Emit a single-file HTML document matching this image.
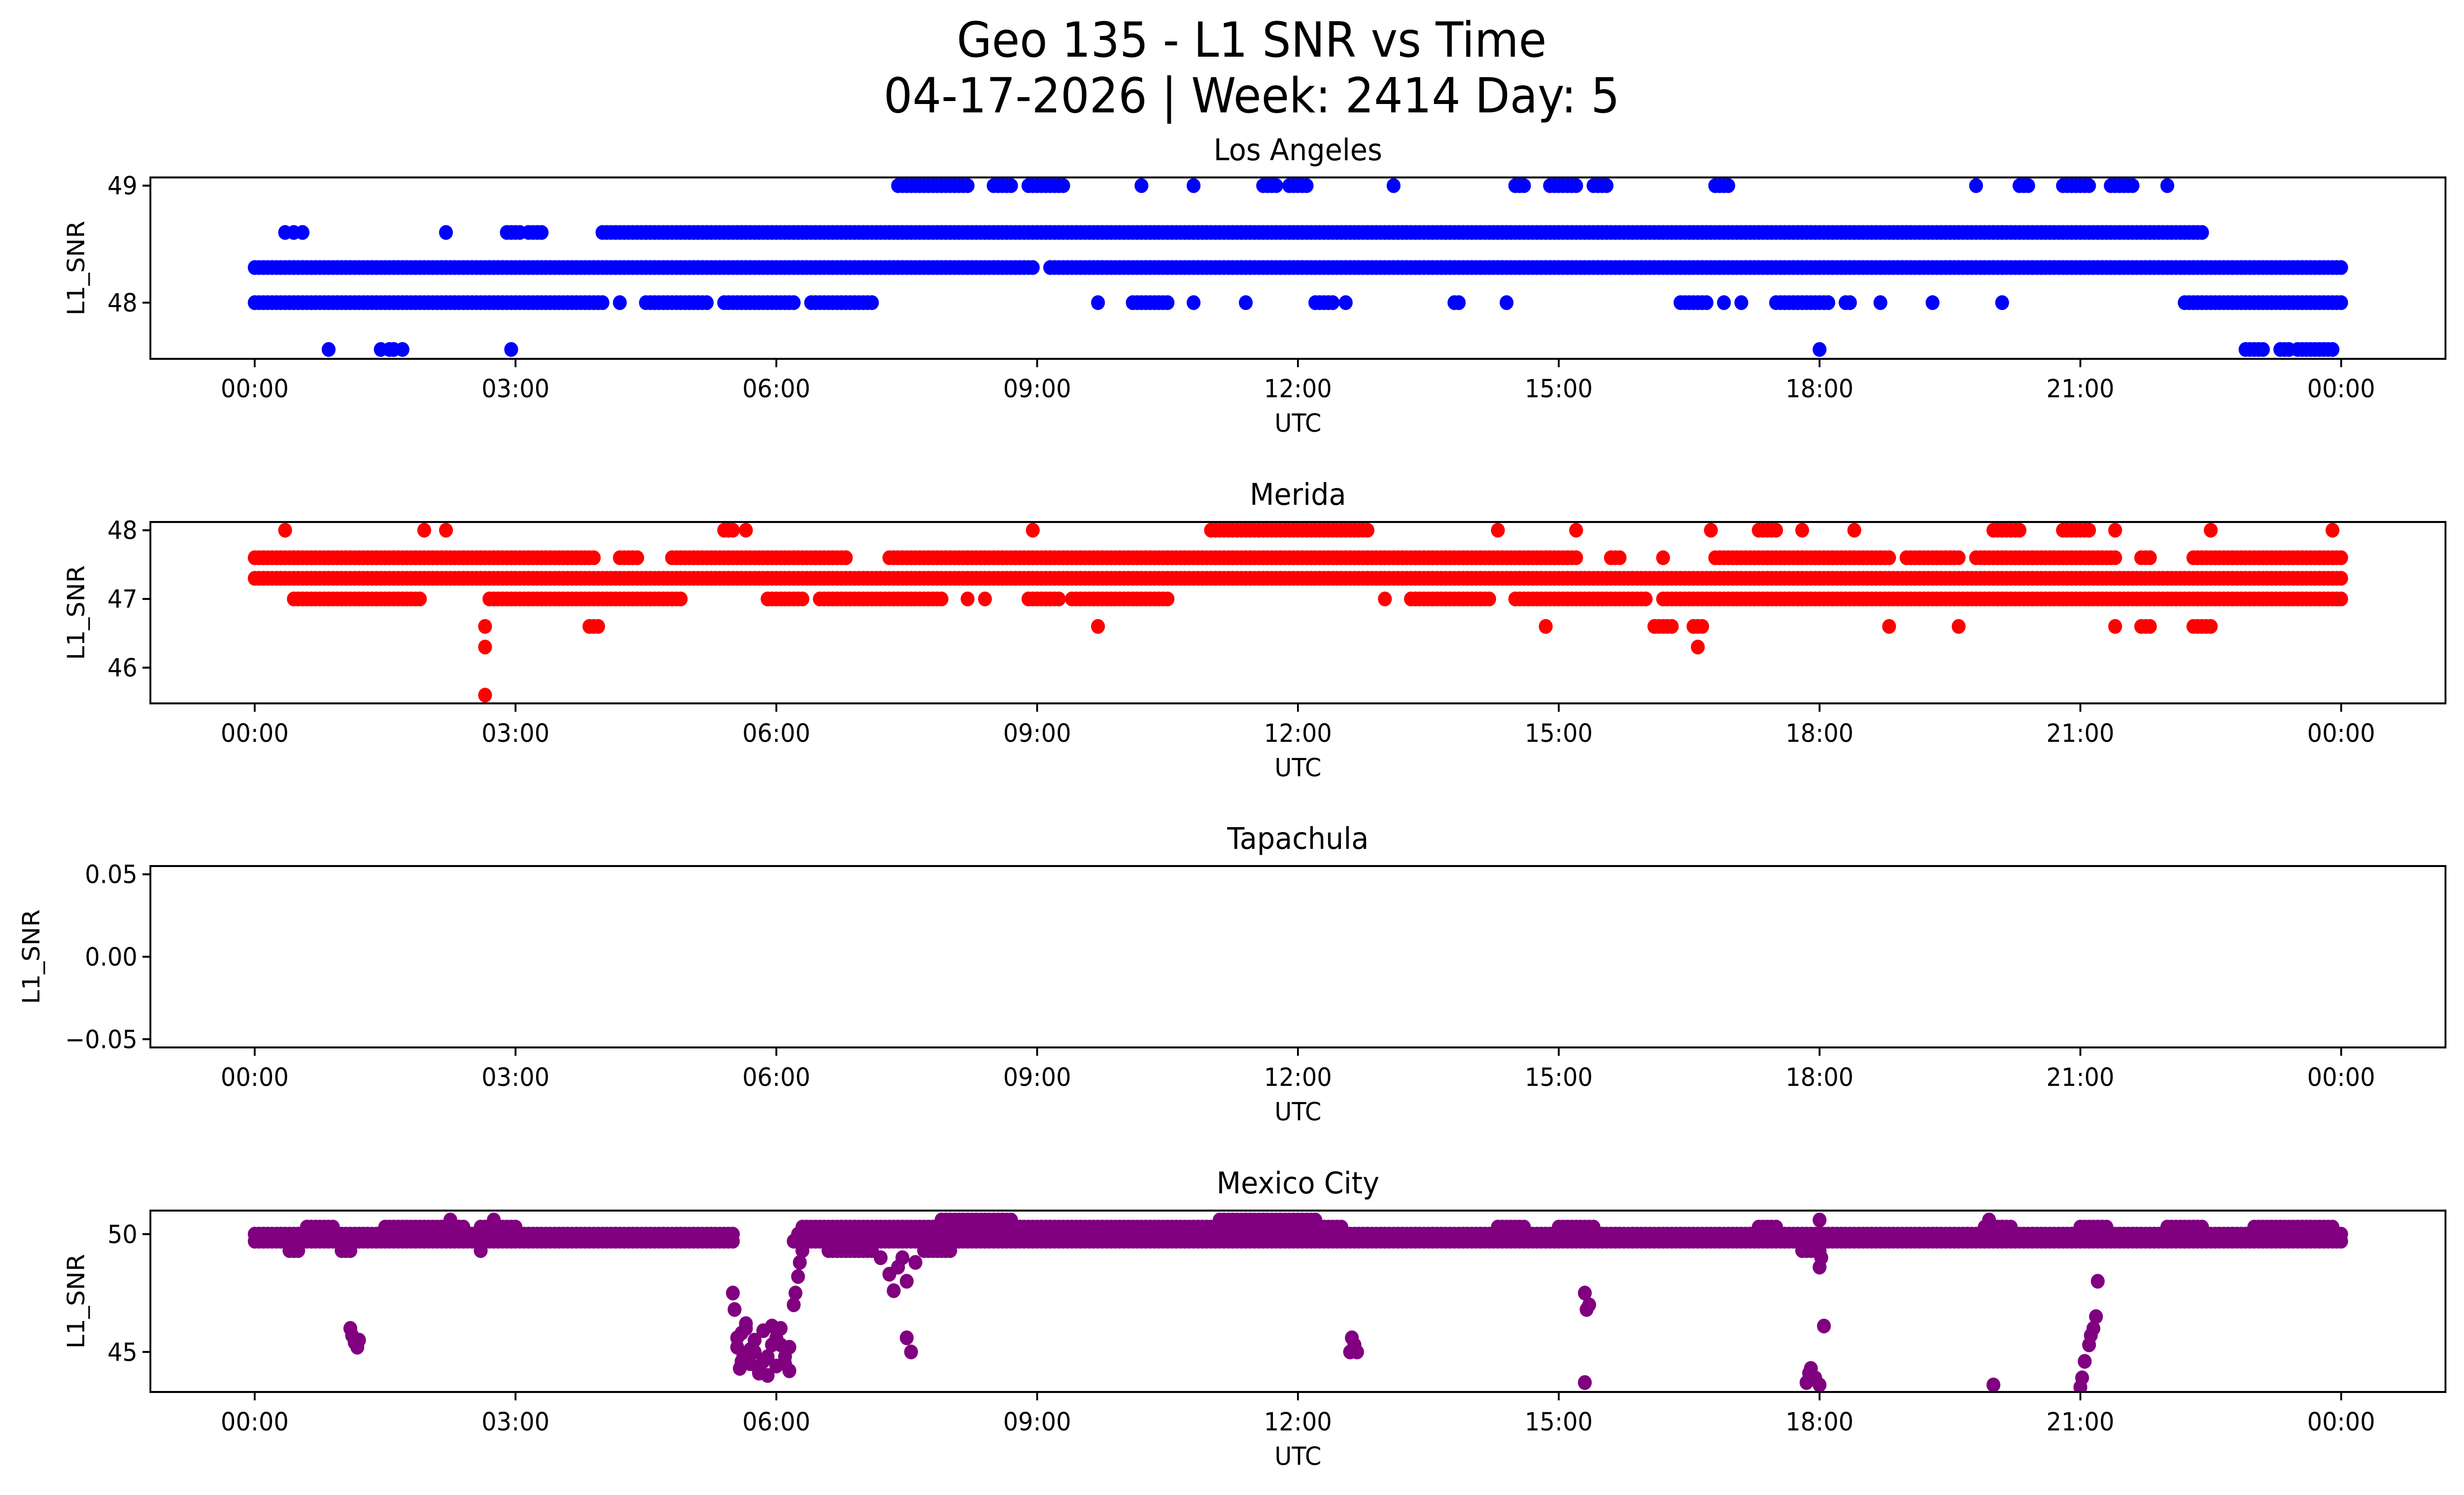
<!DOCTYPE html>
<html><head><meta charset="utf-8"><style>
html,body{margin:0;padding:0;background:#fff;overflow:hidden;width:100vw;height:100vh}
svg{display:block;width:100vw;height:100vh}
text{font-family:"DejaVu Sans","Liberation Sans",sans-serif;fill:#000}
</style></head><body>
<svg id="chart" viewBox="0 0 5325 3033" preserveAspectRatio="none" xmlns="http://www.w3.org/2000/svg">
<rect width="5325" height="3033" fill="#fff"/>
<text x="2705" y="115" font-size="98" text-anchor="middle">Geo 135 - L1 SNR vs Time</text>
<text x="2705" y="228" font-size="98" text-anchor="middle">04-17-2026 | Week: 2414 Day: 5</text>
<g id="plots"></g>
</svg>
<script>
// x ticks (hours)
const xTickHours = [0,3,6,9,12,15,18,21,24];
const xTickLabels = ["00:00","03:00","06:00","09:00","12:00","15:00","18:00","21:00","00:00"];
const panelNames = ["Los Angeles","Merida","Tapachula","Mexico City"];
const panelColors = ["#0000ff","#ff0000","#0000ff","#800080"];
const yLims = [[47.52,49.07],[45.48,48.12],[-0.055,0.055],[43.3,51.0]];
const yTicks = [[48,49],[46,47,48],[-0.05,0,0.05],[45,50]];
const yTickLabels = [["48","49"],["46","47","48"],["\u22120.05","0.00","0.05"],["45","50"]];

// runs: [value, startHour, endHour] sampled every 0.05h
const laRuns = [
 [48.3,0,8.95],[48.3,9.15,24],
 [48.6,0.35,0.35],[48.6,0.45,0.45],[48.6,0.55,0.55],[48.6,2.2,2.2],[48.6,2.9,3.05],[48.6,3.15,3.3],[48.6,4.0,22.4],
 [48.0,0,4.0],[48.0,4.2,4.2],[48.0,4.5,5.2],[48.0,5.4,6.2],[48.0,6.4,7.1],[48.0,9.7,9.7],[48.0,10.1,10.5],[48.0,10.8,10.8],[48.0,11.4,11.4],[48.0,12.2,12.4],[48.0,12.55,12.55],[48.0,13.8,13.85],[48.0,14.4,14.4],[48.0,16.4,16.7],[48.0,16.9,16.9],[48.0,17.1,17.1],[48.0,17.5,18.1],[48.0,18.3,18.35],[48.0,18.7,18.7],[48.0,19.3,19.3],[48.0,20.1,20.1],[48.0,22.2,24],
 [49.0,7.4,8.2],[49.0,8.5,8.7],[49.0,8.9,9.3],[49.0,10.2,10.2],[49.0,10.8,10.8],[49.0,11.6,11.75],[49.0,11.9,12.1],[49.0,13.1,13.1],[49.0,14.5,14.6],[49.0,14.9,15.2],[49.0,15.4,15.55],[49.0,16.8,16.95],[49.0,19.8,19.8],[49.0,20.3,20.4],[49.0,20.8,21.1],[49.0,21.35,21.6],[49.0,22.0,22.0],
 [47.6,0.85,0.85],[47.6,1.45,1.45],[47.6,1.55,1.6],[47.6,1.7,1.7],[47.6,2.95,2.95],[47.6,18.0,18.0],[47.6,22.9,23.1],[47.6,23.3,23.4],[47.6,23.5,23.9]
];
const meRuns = [
 [47.3,0,24],
 [47.6,0,3.9],[47.6,4.2,4.4],[47.6,4.8,6.8],[47.6,7.3,15.2],[47.6,15.6,15.7],[47.6,16.2,16.2],[47.6,16.8,18.8],[47.6,19.0,19.6],[47.6,19.8,21.4],[47.6,21.7,21.8],[47.6,22.3,24],
 [47.0,0.45,1.9],[47.0,2.7,4.9],[47.0,5.9,6.3],[47.0,6.5,7.9],[47.0,8.2,8.2],[47.0,8.4,8.4],[47.0,8.9,9.25],[47.0,9.4,10.5],[47.0,13.0,13.0],[47.0,13.3,14.2],[47.0,14.5,16.0],[47.0,16.2,24],
 [48.0,0.35,0.35],[48.0,1.95,1.95],[48.0,2.2,2.2],[48.0,5.4,5.5],[48.0,5.65,5.65],[48.0,8.95,8.95],[48.0,11.0,12.8],[48.0,14.3,14.3],[48.0,15.2,15.2],[48.0,16.75,16.75],[48.0,17.3,17.5],[48.0,17.8,17.8],[48.0,18.4,18.4],[48.0,20.0,20.3],[48.0,20.8,21.1],[48.0,21.4,21.4],[48.0,22.5,22.5],[48.0,23.9,23.9],
 [46.6,2.65,2.65],[46.6,3.85,3.95],[46.6,9.7,9.7],[46.6,14.85,14.85],[46.6,16.1,16.3],[46.6,16.55,16.65],[46.6,18.8,18.8],[46.6,19.6,19.6],[46.6,21.4,21.4],[46.6,21.7,21.8],[46.6,22.3,22.5],
 [46.3,2.65,2.65],[46.3,16.6,16.6],[45.6,2.65,2.65]
];
const taRuns = [];
const mcRuns = [
 [49.7,0,5.5],[49.7,6.2,24],[50.0,0,5.5],[50.0,6.25,24],
 [50.3,0.6,0.9],[50.3,1.5,2.4],[50.3,2.6,3.0],[50.3,6.3,8.2],[50.3,8.5,12.5],[50.3,14.3,14.6],[50.3,15.0,15.4],[50.3,17.3,17.5],[50.3,19.9,20.2],[50.3,21.0,21.3],[50.3,22.0,22.4],[50.3,23.0,23.9],
 [50.6,2.25,2.25],[50.6,2.75,2.75],[50.6,7.9,8.7],[50.6,11.1,12.2],[50.6,18.0,18.0],[50.6,19.95,19.95],
 [49.3,0.4,0.5],[49.3,1.0,1.1],[49.3,2.6,2.6],[49.3,6.6,7.1],[49.3,7.7,8.0],[49.3,17.8,18.0]
];
// isolated points [hour, value]
const mcHours = [1.1,1.12,1.15,1.18,1.2,5.5,5.52,5.55,5.58,5.6,5.62,5.65,5.7,5.75,5.8,5.85,5.9,5.95,6.0,6.05,6.1,6.15,5.6,5.7,5.8,5.9,6.0,6.1,5.55,5.65,5.75,5.85,5.95,6.05,6.15,6.2,6.22,6.25,6.27,6.3,7.2,7.3,7.35,7.4,7.45,7.5,7.55,7.5,7.6,12.6,12.62,12.65,12.68,15.3,15.32,15.35,15.3,17.85,17.88,17.9,17.95,18.0,18.0,18.02,18.05,20.0,21.0,21.02,21.05,21.1,21.12,21.15,21.18,21.2];
const mcValues = [46.0,45.7,45.4,45.2,45.5,47.5,46.8,45.2,44.3,45.8,44.8,46.0,44.5,45.5,44.2,45.9,44.0,45.3,44.4,46.0,44.8,45.2,44.6,45.1,44.1,44.8,45.6,44.5,45.6,46.2,45.0,44.6,46.1,45.3,44.2,47.0,47.5,48.2,48.8,49.3,49.0,48.3,47.6,48.6,49.0,48.0,45.0,45.6,48.8,45.0,45.6,45.3,45.0,47.5,46.8,47.0,43.7,43.7,44.1,44.3,43.9,43.6,48.6,49.0,46.1,43.6,43.5,43.9,44.6,45.3,45.7,46.0,46.5,48.0];

const runsList = [laRuns, meRuns, taRuns, mcRuns];
const NS = "http://www.w3.org/2000/svg";
const plotL = 325, plotR = 5285, panelH = 368;
const panelTops = [360, 1059, 1757, 2456];
const xMin = -1.2, xMax = 25.2;
function xScale(h){ return plotL + (h - xMin) / (xMax - xMin) * (plotR - plotL); }
function mk(tag, attrs, parent){ const e = document.createElementNS(NS, tag); for (const k in attrs) e.setAttribute(k, attrs[k]); parent.appendChild(e); return e; }
const root = document.getElementById("plots");

panelNames.forEach((name, p) => {
  const top = panelTops[p], bot = top + panelH;
  const [y0, y1] = yLims[p];
  const yScale = v => bot - (v - y0) / (y1 - y0) * panelH;
  const g = mk("g", {}, root);
  
  
  const clip = mk("clipPath", {id: "clip" + p}, g);
  mk("rect", {x: plotL, y: top, width: plotR - plotL, height: panelH}, clip);
  const pts = mk("g", {fill: panelColors[p], "clip-path": "url(#clip" + p + ")"}, g);
  
  
  runsList[p].forEach(r => {
    for (let h = r[1]; h <= r[2] + 1e-6; h += 0.05) {
      const c = mk("circle", {cx: xScale(h).toFixed(1), cy: yScale(r[0]).toFixed(1), r: 15}, pts);
      
      
    }
  });
  if (p === 3) {
    mcHours.forEach((h, i) => {
      const c = mk("circle", {cx: xScale(h).toFixed(1), cy: yScale(mcValues[i]).toFixed(1), r: 15}, pts);
      
      
    });
  }
  const frame = mk("rect", {x: plotL, y: top, width: plotR - plotL, height: panelH, fill: "none", stroke: "#000", "stroke-width": 4}, g);
  
  
  xTickHours.forEach((h, i) => {
    const x = xScale(h);
    mk("line", {x1: x, x2: x, y1: bot, y2: bot + 17, stroke: "#000", "stroke-width": 4}, g);
    const t = mk("text", {x: x, y: bot + 78, "font-size": 51, "text-anchor": "middle"}, g);
    t.textContent = xTickLabels[i];
    
    
  });
  yTicks[p].forEach((v, i) => {
    const y = yScale(v);
    mk("line", {x1: plotL - 17, x2: plotL, y1: y, y2: y, stroke: "#000", "stroke-width": 4}, g);
    const t = mk("text", {x: plotL - 28, y: y + 18, "font-size": 51, "text-anchor": "end"}, g);
    t.textContent = yTickLabels[p][i];
    
    
  });
  const st = mk("text", {x: (plotL + plotR) / 2, y: top - 35, "font-size": 61, "text-anchor": "middle"}, g);
  st.textContent = name;
  
  
  const xl = mk("text", {x: (plotL + plotR) / 2, y: bot + 148, "font-size": 51, "text-anchor": "middle"}, g);
  xl.textContent = "UTC";
  
  
  const ylx = p === 2 ? 85 : 182;
  const yl = mk("text", {x: ylx, y: top + panelH / 2, "font-size": 51, "text-anchor": "middle", transform: "rotate(-90 " + ylx + " " + (top + panelH / 2) + ")"}, g);
  yl.textContent = "L1_SNR";
  
  
});
</script>
</body></html>
